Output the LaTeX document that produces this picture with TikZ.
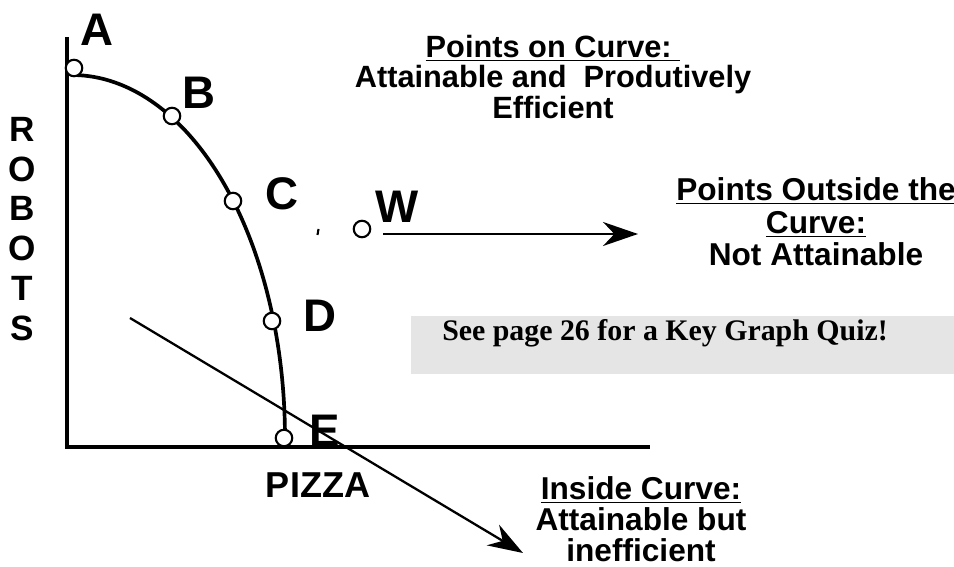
\documentclass[tikz,border=0pt]{standalone}
\usepackage{fontspec}
\setmainfont{Liberation Sans}
\newfontfamily\quizfont{Liberation Serif}
\usetikzlibrary{arrows.meta, positioning}
\definecolor{quizgray}{RGB}{229,229,229}

\begin{document}
\begin{tikzpicture}[x=0.02cm, y=-0.02cm,
    pt/.style={circle, draw, fill=white, line width=1.2pt,
        minimum size=0.33cm, inner sep=0pt},
    ptlabel/.style={font=\fontsize{26}{26}\selectfont\bfseries, inner sep=0pt},
    axis/.style={line width=2.8pt},
    frontier/.style={line width=2.1pt},
    note/.style={align=center, inner sep=0pt,
        font=\fontsize{17.5}{17.5}\selectfont\bfseries},
    arrow/.style={-{Stealth[length=0.7cm, width=0.48cm]}, line width=1.3pt}
]
\useasboundingbox (0,0) rectangle (954,567);

\fill[quizgray] (411,316) rectangle (960,374);
\node[inner sep=0pt, font=\fontsize{17}{17}\selectfont\quizfont\bfseries]
    (quiz) at (665,333) {See page 26 for a Key Graph Quiz!};

\coordinate (yTop)   at (67,37);
\coordinate (xRight) at (650,447);
\draw[axis] (yTop) |- (xRight);

\draw[frontier] plot[domain=90:0, samples=80]
    ({72+213*cos(\x)}, {438-363*sin(\x)});

\node[pt] (pA) at (74,68)   {};
\node[pt] (pB) at (172,116) {};
\node[pt] (pC) at (233,201) {};
\node[pt] (pD) at (272,321) {};
\node[pt] (pE) at (284,438) {};
\node[pt] (pW) at (362,229) {};

\node[ptlabel] (lblA) at (97,30)   {A};
\node[ptlabel] (lblB) at (199,93)  {B};
\node[ptlabel] (lblC) at (282,194) {C};
\node[ptlabel] (lblD) at (320,316) {D};
\node[ptlabel] (lblE) at (325,431) {E};
\node[ptlabel] (lblW) at (397,207) {W};

\draw[line width=1.2pt] (318.5,229) -- (317.5,235);

\node[align=center, inner sep=0pt, font=\fontsize{20}{22.7}\selectfont\bfseries]
    (robots) at (22,229) {R\\O\\B\\O\\T\\S};
\node[inner sep=0pt, font=\fontsize{20.5}{20.5}\selectfont\bfseries]
    (pizza) at (318,485) {PIZZA};

\node[note] (onCurve) at (553,77)
    {\underline{Points on Curve:~}\\Attainable and~ Produtively\\Efficient};
\node[note, font=\fontsize{18}{18.5}\selectfont\bfseries] (outside) at (816,222)
    {\underline{Points Outside the}\\\underline{Curve:}\\Not Attainable};
\node[note, font=\fontsize{18}{17.5}\selectfont\bfseries] (inside) at (641,519)
    {\underline{Inside Curve:}\\Attainable but\\inefficient};

\coordinate (wStart)  at (383,234);
\coordinate (wEnd)    at (638,234);
\draw[arrow] (wStart) -- (wEnd);

\coordinate (inStart) at (130,318);
\coordinate (inEnd)   at (523,553);
\draw[arrow] (inStart) -- (inEnd);
\end{tikzpicture}
\end{document}
